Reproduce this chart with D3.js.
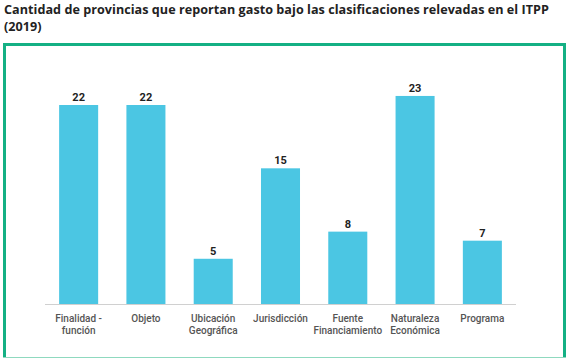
<!DOCTYPE html>
<html>
<head>
<meta charset="utf-8">
<script src="https://cdn.jsdelivr.net/npm/d3@7"></script>
<style>
body { margin: 0; background: #fff; }
svg text { font-family: "Open Sans", sans-serif; }
</style>
</head>
<body>
<svg id="chart" width="570" height="358"></svg>
<script>
var categories = [["Finalidad -", "función"], ["Objeto"], ["Ubicación", "Geográfica"], ["Jurisdicción"], ["Fuente", "Financiamiento"], ["Naturaleza", "Económica"], ["Programa"]];
var values = [22, 22, 5, 15, 8, 23, 7];
var titleLines = ["Cantidad de provincias que reportan gasto bajo las clasificaciones relevadas en el ITPP", "(2019)"];

var svg = d3.select("#chart");

// title
svg.selectAll("text.title")
    .data(titleLines)
    .enter().append("text")
    .attr("class", "title")
    .attr("x", 4)
    .attr("y", function(d, i) { return 14 + i * 17; })
    .style("font-size", "12.6px")
    .style("font-weight", "bold")
    .style("letter-spacing", "0.04px")
    .style("fill", "#222")
    .text(function(d) { return d; });

// green frame (bottom edge is cut off in the original, only a faint line)
svg.append("path")
    .attr("d", "M4.5,358 V44.5 H564.5 V358")
    .attr("fill", "none")
    .attr("stroke", "#14b084")
    .attr("stroke-width", 3);
svg.append("line")
    .attr("x1", 3).attr("x2", 566)
    .attr("y1", 357.5).attr("y2", 357.5)
    .attr("stroke", "#8fd9bf")
    .attr("stroke-width", 1);

var idx = d3.range(values.length);

var x = d3.scaleBand()
    .domain(idx)
    .range([45, 516])
    .paddingInner(0.42)
    .paddingOuter(0.21);

var y = d3.scaleLinear()
    .domain([0, 22])
    .range([304, 105]);

svg.selectAll("rect.bar")
    .data(values)
    .enter().append("rect")
    .attr("class", "bar")
    .attr("x", function(d, i) { return x(i); })
    .attr("y", function(d) { return y(d); })
    .attr("width", x.bandwidth())
    .attr("height", function(d) { return y(0) - y(d); })
    .attr("fill", "#4bc6e3");

// baseline
svg.append("line")
    .attr("x1", 45).attr("x2", 516)
    .attr("y1", 304.5).attr("y2", 304.5)
    .attr("stroke", "#d0d0d0")
    .attr("stroke-width", 1);

// value labels
svg.selectAll("text.val")
    .data(values)
    .enter().append("text")
    .attr("class", "val")
    .attr("x", function(d, i) { return x(i) + x.bandwidth() / 2; })
    .attr("y", function(d) { return y(d) - 4; })
    .attr("text-anchor", "middle")
    .style("font-family", "Roboto, sans-serif")
    .style("font-size", "11px")
    .style("font-weight", "bold")
    .style("fill", "#222")
    .text(function(d) { return d; });

// category labels
var cat = svg.selectAll("text.cat")
    .data(categories)
    .enter().append("text")
    .attr("class", "cat")
    .attr("x", function(d, i) { return x(i) + x.bandwidth() / 2; })
    .attr("y", 322)
    .attr("text-anchor", "middle")
    .style("font-family", "Roboto, sans-serif")
    .style("font-size", "10px")
    .style("font-weight", "500")
    .style("fill", "#555");

cat.selectAll("tspan")
    .data(function(d) { return d; })
    .enter().append("tspan")
    .attr("x", function() { return d3.select(this.parentNode).attr("x"); })
    .attr("dy", function(d, i) { return i ? 12 : 0; })
    .text(function(d) { return d; });
</script>
</body>
</html>
